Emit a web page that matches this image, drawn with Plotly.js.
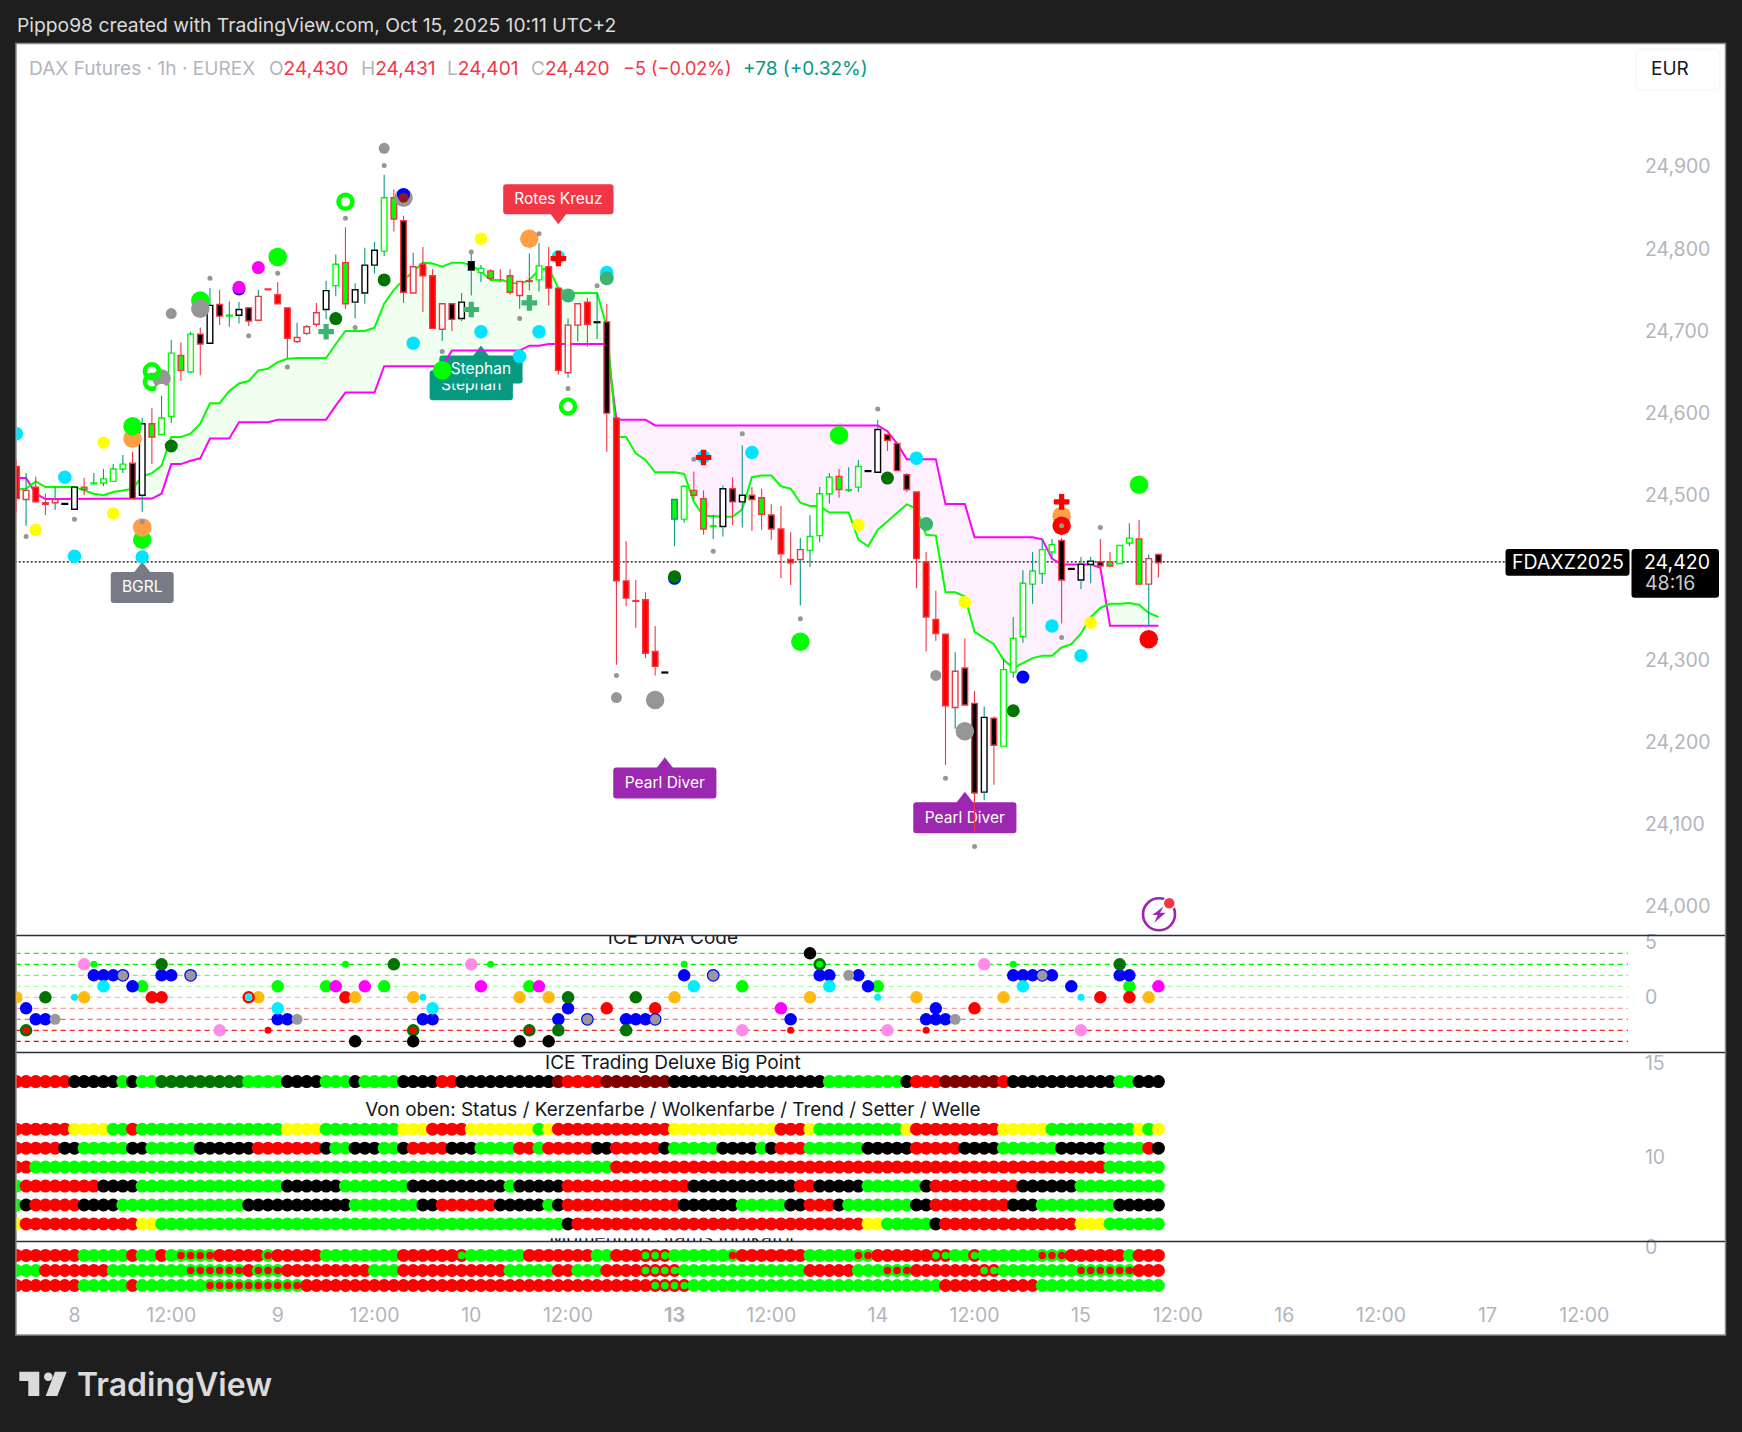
<!DOCTYPE html>
<html><head><meta charset="utf-8">
<script src="https://cdn.plot.ly/plotly-3.0.1.min.js"></script>
<style>html,body{margin:0;padding:0;background:#1e1e1e}#c{width:1742px;height:1432px}</style></head>
<body><div id="c"></div>
<script>
// ---------- candle data (prices) ----------
const bodyHigh=[24534,24505,24509,24490,24494,24489,24509,24509,24514,24519,
24531,24537,24538,24586,24586,24593,24672,24669,24695,24695,
24730,24731,24718,24725,24727,24741,24750,24743,24727,24691,
24704,24721,24748,24780,24782,24749,24779,24797,24861,24861,
24833,24777,24780,24766,24732,24732,24734,24783,24775,24772,
24761,24766,24759,24760,24778,24777,24751,24706,24732,24734,
24710,24710,24593,24395,24371,24372,24309,24284,24494,24510,
24505,24495,24462,24507,24507,24499,24499,24496,24475,24458,
24421,24433,24449,24501,24521,24522,24506,24534,24529,24579,
24573,24562,24524,24503,24418,24348,24330,24285,24289,24246,
24229,24228,24287,24325,24392,24407,24433,24439,24444,24410,
24415,24419,24418,24418,24438,24447,24446,24422,24427];
const bodyLow=[24495,24494,24491,24488,24490,24488,24482,24506,24513,24514,
24516,24531,24495,24499,24570,24573,24595,24651,24649,24683,
24684,24717,24717,24718,24711,24712,24749,24732,24690,24686,
24696,24707,24725,24754,24732,24734,24745,24779,24796,24835,
24746,24745,24766,24702,24701,24713,24714,24773,24770,24763,
24760,24746,24742,24759,24761,24751,24651,24648,24706,24707,
24709,24599,24395,24374,24370,24307,24291,24283,24470,24470,
24499,24458,24461,24461,24491,24491,24494,24476,24458,24428,
24417,24421,24432,24450,24501,24506,24505,24509,24528,24527,
24566,24529,24506,24422,24351,24331,24243,24241,24244,24137,
24138,24195,24194,24284,24327,24391,24404,24430,24396,24409,
24396,24415,24413,24413,24416,24441,24391,24391,24417];
const wickHigh=[24542,24526,24522,24501,24509,24489,24509,24520,24526,24531,
24537,24548,24552,24593,24605,24620,24688,24685,24698,24703,
24751,24749,24735,24734,24727,24749,24750,24758,24727,24709,
24706,24733,24760,24792,24825,24757,24800,24807,24889,24871,
24839,24794,24801,24774,24732,24732,24745,24795,24779,24774,
24774,24774,24759,24793,24806,24801,24751,24714,24732,24739,
24745,24732,24593,24443,24396,24381,24340,24284,24494,24511,
24528,24505,24475,24511,24521,24560,24509,24507,24488,24486,
24454,24447,24475,24509,24526,24531,24533,24542,24529,24591,
24573,24562,24526,24503,24430,24383,24330,24308,24325,24261,
24242,24230,24300,24351,24408,24430,24445,24446,24447,24410,
24424,24424,24446,24430,24438,24465,24469,24427,24428];
const wickLow=[24478,24462,24491,24475,24481,24488,24482,24499,24513,24510,
24516,24526,24495,24479,24537,24573,24587,24638,24648,24645,
24684,24706,24704,24708,24705,24712,24749,24732,24666,24684,
24694,24704,24713,24741,24726,24714,24732,24769,24790,24820,
24733,24745,24722,24702,24687,24699,24711,24742,24758,24761,
24758,24743,24726,24748,24747,24730,24646,24642,24686,24680,
24689,24552,24293,24364,24338,24301,24280,24283,24437,24466,
24494,24451,24446,24449,24463,24460,24456,24457,24445,24398,
24390,24365,24412,24442,24489,24496,24503,24503,24528,24527,
24553,24529,24503,24386,24309,24322,24171,24215,24244,24089,
24128,24147,24194,24277,24320,24367,24391,24422,24343,24409,
24385,24392,24412,24412,24416,24437,24391,24340,24399];
const bodyFillCodes='RWRRWKWGGW'+'WWKWGWWGWK'+'WKGWKWRRRW'+'WWWWGWWWWG'+'KWRRWKWKWG'+'GGWRWRRWWR'+'KKRRRRRKGW'+'GGGWKWKGKR'+'RWWWWGGWKW'+'KKKRRRRWKK'+'WKWWWWWWKK'+'WWKGWWGWK';
const bodyEdgeCodes='rrrrrkkrgg'+'ggrkrggrgr'+'krgkrrrrrr'+'rrkgrkkkgr'+'rrrrrrkkgr'+'grrrgrrrrr'+'krrrrrrktg'+'rrgkrkrrrr'+'rrgggrggkk'+'rrrrrrrrrr'+'krggggggrk'+'kkrrggrrr';
const wickCodes='rtrrtkkrtt'+'ttrtrttrtr'+'trttrtrrrt'+'trttrttttr'+'rtrrtrtttr'+'rrtttrrttr'+'trrrrrrktt'+'rrttrtrrrr'+'rttttrttkt'+'rrrrrrrtrr'+'trttttttrk'+'ttrrttrtr';
// ---------- band lines ----------
const greenLine=[24506,24507,24516,24509,24509,24509,24509,24505,24501,24499,
24503,24505,24507,24522,24526,24535,24570,24570,24574,24586,
24611,24611,24626,24635,24638,24651,24653,24661,24665,24666,
24666,24666,24666,24683,24699,24699,24699,24703,24732,24749,
24761,24771,24782,24781,24777,24782,24782,24779,24771,24761,
24761,24758,24756,24761,24773,24775,24751,24745,24745,24745,
24745,24704,24570,24570,24550,24542,24527,24527,24527,24525,
24491,24474,24474,24473,24473,24482,24521,24523,24523,24510,
24507,24490,24486,24486,24478,24478,24478,24445,24437,24457,
24467,24477,24488,24483,24451,24450,24381,24381,24376,24333,
24325,24318,24299,24289,24295,24301,24304,24304,24314,24318,
24331,24351,24362,24367,24367,24368,24366,24356,24351];
const magentaLine=[24520,24520,24501,24494.5,24494.5,24494.5,24494.5,24494.5,24494.5,24494.5,
24494.5,24494.5,24494.5,24494.5,24495,24501,24537,24537,24541,24544,
24568,24568,24568,24588,24588,24588,24588,24591,24591,24591,
24591,24591,24591,24608,24624,24624,24624,24624,24656,24656,
24656,24656,24656,24656,24656,24675,24675,24675,24675,24675,
24675,24675,24675,24681,24681,24683,24683,24683,24683,24683,
24683,24683,24591,24591,24591,24591,24584,24584,24584,24584,
24584,24584,24584,24584,24584,24584,24584,24584,24584,24584,
24584,24584,24584,24584,24584,24584,24584,24584,24584,24584,
24577,24562,24543,24543,24543,24543,24488.5,24488.5,24488.5,24448,
24448,24448,24448,24448,24448,24448,24445.5,24422,24415,24415,
24415,24415,24411,24340.5,24340.5,24340.5,24340.5,24340.5,24340.5];
const lastPriceLine=24418;
// ---------- main-pane markers: [bar, price] ----------
const cyanDots=[[0,24574],[5,24521],[6,24425],[13,24424],[41,24684],[48,24698],[52,24668],[54,24698],[56,24789],[61,24770],[71,24546],[76,24551],[93,24544],[107,24340],[110,24304]];
const yellowDots=[[2,24457],[9,24563],[10,24477],[48,24811],[87,24463],[98,24369],[111,24344]];
const orangeUnder=[[12,24568]];
const greenBig=[[12,24583],[13,24445],[19,24736],[27,24789],[44,24651],[81,24321],[85,24572],[116,24512]];
const orangeBig=[[13,24460],[53,24811],[108,24474]];
const ringLow=[[14,24637]];
const grayBig=[[15,24641],[19,24726],[40,24861],[66,24250],[98,24212]];
const whiteDots=[[15,24628]];
const grayMid=[[16,24720],[38,24921],[62,24253],[95,24280]];
const ringTop=[[14,24650],[34,24856],[57,24607]];
const blueDots=[[23,24750],[40,24865],[68,24398],[104,24278]];
const magentaDots=[[23,24752],[25,24776]];
const darkGreenDots=[[16,24559],[33,24714],[38,24761],[68,24400],[90,24520],[103,24237]];
const seaDots=[[57,24742],[61,24763],[94,24464]];
const seaCross=[[32,24698],[47,24725],[53,24733]];
const redBig=[[108,24462],[117,24324]];
const redCross=[[56,24787],[71,24545],[108,24491]];
const darkRedDots=[[40,24861]];
const grayTiny=[[1,24449],[6,24470],[13,24467],[20,24763],[24,24693],[27,24769],[28,24655],[34,24836],[35,24703],[38,24900],[44,24674],[47,24795],[52,24714],[54,24817],[57,24629],[60,24754],[62,24280],[70,24543],[72,24431],[75,24574],[81,24349],[89,24604],[96,24155],[99,24072],[108,24462],[108,24326],[112,24460]];
// ---------- callouts ----------
const calloutText=['Stephan','Rotes Kreuz','Stephan','BGRL','Pearl Diver','Pearl Diver'];
const calloutBar=[47,56,48,13,67,98];
const calloutPrice=[24633,24859,24652,24387,24149,24107];
const calloutTip=[null,24839,24671,24408,24170,24128];
const calloutWidth=[8.6,11.4,8.6,6.5,10.66,10.66];
const calloutHeight=[36.5,36.5,34,37.7,37.7,37.7];
const calloutColor=['#089981','#f23645','#089981','#787b86','#9c27b0','#9c27b0'];
// ---------- ICE DNA Code: [bar, level] ----------
const dnaGreen=[[13,1],[27,1],[32,1],[38,1],[53,1],[75,1],[89,1],[115,1]];
const dnaBlue=[[1,-1],[2,-2],[3,-2],[8,2],[9,2],[10,2],[12,1],[15,2],[16,2],[27,-2],[28,-2],[42,-2],[43,-2],[56,-2],[57,-1],[63,-2],[64,-2],[65,-2],[69,2],[80,-2],[83,2],[84,2],[87,2],[88,1],[94,-2],[95,-2],[96,-2],[95,-1],[103,2],[104,2],[105,2],[107,2],[109,1],[114,2],[115,2]];
const dnaRed=[[14,0],[15,0],[34,0],[61,-1],[66,-1],[99,-1],[112,0],[115,0]];
const dnaOrange=[[0,0],[7,0],[25,0],[35,0],[41,0],[52,0],[55,0],[68,0],[82,0],[93,0],[102,0],[117,0]];
const dnaCyan=[[9,1],[27,-1],[43,-1],[70,1],[84,1],[104,1]];
const dnaPink=[[7,3],[21,-3],[47,3],[75,-3],[90,-3],[100,3],[110,-3]];
const dnaMagenta=[[33,1],[36,1],[48,1],[54,1],[79,-1],[118,1]];
const dnaGray=[[4,-2],[29,-2],[86,2],[97,-2]];
const dnaGrayBlue=[[11,2],[18,2],[59,-2],[66,-2],[72,2],[106,2]];
const dnaDark=[[1,-3],[3,0],[15,3],[39,3],[41,-3],[53,-3],[57,0],[56,-3],[63,-3],[64,0],[83,3],[114,3]];
const dnaBlack=[[35,-4],[41,-4],[52,-4],[55,-4],[82,4]];
const dnaRing=[[24,0]];
const dnaSmallGreen=[[8,3],[34,3],[49,3],[69,3],[83,3],[103,3]];
const dnaSmallRed=[[1,-3],[26,-3],[41,-3],[53,-3],[80,-3],[94,-3]];
const dnaSmallCyan=[[6,0],[24,0],[42,0],[89,0],[110,0]];
const dnaLevels=[4,3,2,1,0,-1,-2,-3,-4];
const dnaLevelColors=['#00ff00','#00ee00','#66ff66','#aaffaa','#cccccc','#ff9999','#ff6666','#ff2222','#e00000'];
// ---------- status rows (letter + run length) ----------
const bigPointRuns='R6 K5 G1 K1 G2 D9 G4 K4 G3 K1 G4 K4 R2 K10 M1 R4 M7 K16 G8 K1 R3 M6 R1 K11 G2 K3';
const statusRuns='R6 Y4 G2 R1 G15 Y4 G8 Y3 R4 Y7 G1 Y1 R12 Y11 R3 Y1 G9 Y1 R9 Y5 G9 Y1 G1 Y1';
const candleRuns='R5 K2 G5 K2 G5 K6 R7 K1 G2 K3 G2 K1 R4 K3 G4 R2 G1 R5 K2 R5 K1 G5 K4 G1 K1 R3 G6 K5 R5 K4 G6 K5 G4 R1 K1';
const cloudRuns='R2 G60 R51 G6';
const trendRuns='G1 R8 K4 G15 K6 G7 K10 G1 K5 R13 K11 R2 K5 G6 K1 R9 K6 G9';
const setterRuns='G1 K1 R5 K4 G13 K11 G7 K2 R6 K5 G1 K1 R12 K6 G5 K2 R3 K1 G7 K2 R8 K3 G8 K5';
const welleRuns='Y1 R12 Y2 G42 K1 R30 Y2 G5 K1 R14 Y3 G6';
const moment1Runs='R7 G5 R1 G2 R1 G1 a4 R5 a1 R5 G8 R6 b1 G6 R7 G2 R3 b3 G6 a1 R7 G5 a2 R6 b2 G2 b1 G6 a3 R6 G1 R3';
const moment2Runs='G3 R7 G8 a6 R1 a3 R9 G3 R11 G5 R2 G3 R4 b4 G13 R5 G3 a3 R7 b2 G8 a6 R3';
const moment3Runs='R7 G5 R1 G7 a10 R36 b4 G26 R10 G13';
// ---------- axis labels ----------
const priceTicks=[24000,24100,24200,24300,24400,24500,24600,24700,24800,24900];
const timeTickBars=[6,16,27,37,47,57,68,78,89,99,110,120,131,141,152,162];
const timeTickText=['8','12:00','9','12:00','10','12:00','<b>13</b>','12:00','14','12:00','15','12:00','16','12:00','17','12:00'];

// ---------- helpers ----------
const W=1742,H=1432, STEP=9.678, ORIGIN=16.4;
const pxX=p=>p/W, pxY=p=>1-p/H;
const dom=(top,bot)=>[1-bot/H,1-top/H];
const barOf=p=>(p-ORIGIN)/STEP;
const bars=bodyHigh.map((_,i)=>i);
const FONT='Inter, "Noto Sans", sans-serif';
const fills={R:'#ff0000',W:'#ffffff',K:'#000000',G:'#00ff00'};
const edges={r:'#f23645',g:'#00ff00',k:'#000000',t:'#089981'};
const wickCols={r:'#f23645',t:'#089981',k:'#000000'};
const rowCols={R:'#ff0000',G:'#00ff00',K:'#000000',Y:'#ffff00',D:'#007300',M:'#800000',a:'#00ff00',b:'#ff0000'};
const expand=r=>r.split(' ').flatMap(t=>Array(+t.slice(1)).fill(t[0]));
const base={hoverinfo:'skip',showlegend:false};
function dots(arr,color,size,yaxis,extra={}){
  return Object.assign({},base,{type:'scatter',mode:'markers',x:arr.map(a=>a[0]),y:arr.map(a=>a[1]),yaxis,xaxis:'x',
    marker:Object.assign({color,size,line:{width:0}},extra)});
}
function ring(arr,color,size,width,yaxis){
  return dots(arr,color,size,yaxis,{symbol:'circle-open',line:{width,color}});
}
function textTrace(x,y,text,yaxis,color,size,pos){
  return Object.assign({},base,{type:'scatter',mode:'text',x:[x],y:[y],text:[text],yaxis,xaxis:'x',textposition:pos||'middle center',
    textfont:{family:FONT,size,color},cliponaxis:true});
}
function rowTraces(runs,level,yaxis,size){
  const codes=expand(runs);
  const out=[Object.assign({},base,{type:'scatter',mode:'markers',x:bars,y:codes.map(()=>level),yaxis,xaxis:'x',
    marker:{size,color:codes.map(c=>rowCols[c]),line:{width:0}}})];
  const inner=bars.filter(i=>codes[i]==='a'||codes[i]==='b');
  if(inner.length) out.push(Object.assign({},base,{type:'scatter',mode:'markers',x:inner,y:inner.map(()=>level),yaxis,xaxis:'x',
    marker:{size:7.5,color:inner.map(i=>codes[i]==='a'?'#ff0000':'#00ff00'),line:{width:0}}}));
  return out;
}
function bandFills(){
  const out=[];let xs=[],up=[],lo=[];
  const flush=s=>{ if(xs.length>1) out.push(Object.assign({},base,{type:'scatter',mode:'lines',yaxis:'y6',xaxis:'x',
      x:xs.concat(xs.slice().reverse()),y:up.concat(lo.slice().reverse()),fill:'toself',line:{width:0},
      fillcolor:s>=0?'rgba(0,255,0,0.06)':'rgba(255,0,255,0.06)'}));};
  let sign=Math.sign(greenLine[0]-magentaLine[0])||1;
  bars.forEach(i=>{
    const s=Math.sign(greenLine[i]-magentaLine[i])||sign;
    if(s!==sign){
      const d0=greenLine[i-1]-magentaLine[i-1],d1=greenLine[i]-magentaLine[i],t=d0/(d0-d1);
      const cx=i-1+t,cy=greenLine[i-1]+t*(greenLine[i]-greenLine[i-1]);
      xs.push(cx);up.push(cy);lo.push(cy);flush(sign);xs=[cx];up=[cy];lo=[cy];sign=s;
    }
    xs.push(i);up.push(greenLine[i]);lo.push(magentaLine[i]);
  });
  flush(sign);
  return out;
}
function rr(x0,y0,x1,y1,r){
  const X=pxX,Y=pxY;
  return `M${X(x0+r)},${Y(y0)} L${X(x1-r)},${Y(y0)} Q${X(x1)},${Y(y0)} ${X(x1)},${Y(y0+r)} L${X(x1)},${Y(y1-r)} Q${X(x1)},${Y(y1)} ${X(x1-r)},${Y(y1)} L${X(x0+r)},${Y(y1)} Q${X(x0)},${Y(y1)} ${X(x0)},${Y(y1-r)} L${X(x0)},${Y(y0+r)} Q${X(x0)},${Y(y0)} ${X(x0+r)},${Y(y0)} Z`;
}
const poly=pts=>'M'+pts.map(p=>`${pxX(p[0])},${pxY(p[1])}`).join(' L')+' Z';
const pathShape=(path,fill,line,layer)=>({type:'path',xref:'paper',yref:'paper',path,fillcolor:fill,line:line||{width:0},layer:layer||'above'});

// ---------- traces ----------
const traces=[];
function callout(i,yaxis){
  traces.push(Object.assign({},base,{type:'bar',x:[calloutBar[i]],y:[calloutHeight[i]],base:[calloutPrice[i]-calloutHeight[i]/2],width:[calloutWidth[i]],yaxis,xaxis:'x',
    marker:{color:calloutColor[i],line:{width:0},cornerradius:3}}));
  if(calloutTip[i]!==null) traces.push(dots([[calloutBar[i],calloutTip[i]]],calloutColor[i],17,yaxis,{symbol:i===1?'triangle-down':'triangle-up'}));
  traces.push(textTrace(calloutBar[i],calloutPrice[i]-1.2,calloutText[i],yaxis,'#ffffff',15.5));
}
callout(0,'y');
[1,2,3,4,5].forEach(i=>callout(i,'y5'));

bandFills().forEach(t=>traces.push(t));
traces.push(Object.assign({},base,{type:'scatter',mode:'lines',x:[-1,barOf(1505)],y:[lastPriceLine,lastPriceLine],yaxis:'y6',xaxis:'x',line:{color:'#000',width:1.4,dash:'2px,2px'}}));
traces.push(Object.assign({},base,{type:'scatter',mode:'lines',x:bars,y:magentaLine,yaxis:'y6',xaxis:'x',line:{color:'#ff00ff',width:2}}));
traces.push(Object.assign({},base,{type:'scatter',mode:'lines',x:bars,y:greenLine,yaxis:'y6',xaxis:'x',line:{color:'#00ff00',width:2}}));

traces.push(Object.assign({},base,{type:'bar',x:bars,y:bars.map(i=>bodyHigh[i]-bodyLow[i]),base:bodyLow,width:0.58,yaxis:'y7',xaxis:'x',
  marker:{color:[...bodyFillCodes].map(c=>fills[c]),line:{width:1.4,color:[...bodyEdgeCodes].map(c=>edges[c])}}}));
['r','t','k'].forEach(code=>{
  const xs=[],ys=[];
  bars.forEach(i=>{ if(wickCodes[i]!==code) return;
    if(wickHigh[i]>bodyHigh[i]){xs.push(i,i,null);ys.push(wickHigh[i],bodyHigh[i],null);}
    if(wickLow[i]<bodyLow[i]){xs.push(i,i,null);ys.push(bodyLow[i],wickLow[i],null);}
  });
  traces.push(Object.assign({},base,{type:'scatter',mode:'lines',x:xs,y:ys,yaxis:'y7',xaxis:'x',line:{color:wickCols[code],width:1.1}}));
});

const M='y8';
traces.push(dots(cyanDots,'#00e5ff',13.5,M));
traces.push(dots(yellowDots,'#ffff00',12.5,M));
traces.push(dots(orangeUnder,'#ff9f45',18.5,M));
traces.push(dots(greenBig,'#00ff00',18.5,M));
traces.push(dots(orangeBig,'#ff9f45',18.5,M));
traces.push(ring(ringLow,'#00ff00',14,4.5,M));
traces.push(dots(grayBig,'#969696',18.5,M));
traces.push(dots(whiteDots,'#ffffff',11,M));
traces.push(dots(grayMid,'#969696',11,M));
traces.push(ring(ringTop,'#00ff00',14,4.5,M));
traces.push(dots(blueDots,'#0000ff',13,M));
traces.push(dots(magentaDots,'#ff00ff',13,M));
traces.push(dots(darkGreenDots,'#007300',13,M));
traces.push(dots(seaDots,'#3cb371',14,M));
traces.push(dots(seaCross,'#3cb371',13,M,{symbol:'cross'}));
traces.push(dots(redBig,'#ff0000',18.5,M));
traces.push(dots(redCross,'#ff0000',13,M,{symbol:'cross'}));
traces.push(dots(darkRedDots,'#8b1a1a',10,M));
traces.push(dots(grayTiny,'#969696',5,M));

// DNA pane
dnaLevels.forEach((lv,i)=>traces.push(Object.assign({},base,{type:'scatter',mode:'lines',x:[-1,barOf(1628)],y:[lv,lv],yaxis:'y2',xaxis:'x',
  line:{color:dnaLevelColors[i],width:1.2,dash:'5px,4px'}})));
[[dnaGreen,'#00ff00',12.5],[dnaBlue,'#0000ff',12.5],[dnaRed,'#ff0000',12.5],[dnaOrange,'#ffb90f',12.5],[dnaCyan,'#00eeff',12.5],[dnaPink,'#ff8ce8',12.5],[dnaMagenta,'#ff00ff',12.5],[dnaGray,'#999999',11]]
 .forEach(d=>traces.push(dots(d[0],d[1],d[2],'y2')));
traces.push(dots(dnaGrayBlue,'#999999',11.5,'y2',{line:{width:1.2,color:'#0000ff'}}));
traces.push(dots(dnaDark,'#007300',12.5,'y2'));
traces.push(dots(dnaBlack,'#000000',12.5,'y2'));
traces.push(ring(dnaRing,'#ff0000',10,2.5,'y2'));
traces.push(dots(dnaSmallGreen,'#00ff00',7,'y2'));
traces.push(dots(dnaSmallRed,'#ff0000',7,'y2'));
traces.push(dots(dnaSmallCyan,'#00eeff',7,'y2'));
traces.push(textTrace(67.84,5.25,'ICE DNA Code','y2','#131722',19));

// Deluxe pane
[[bigPointRuns,13.96],[statusRuns,11.45],[candleRuns,10.45],[cloudRuns,9.45],[trendRuns,8.45],[setterRuns,7.45],[welleRuns,6.45]]
 .forEach(r=>rowTraces(r[0],r[1],'y3',13).forEach(t=>traces.push(t)));
traces.push(textTrace(67.84,14.88,'ICE Trading Deluxe Big Point','y3','#131722',19));
traces.push(textTrace(67.84,12.38,'Von oben: Status / Kerzenfarbe / Wolkenfarbe / Trend / Setter / Welle','y3','#131722',18.9));

// Momentum pane
[[moment1Runs,-0.5],[moment2Runs,-1.5],[moment3Runs,-2.5]]
 .forEach(r=>rowTraces(r[0],r[1],'y4',13).forEach(t=>traces.push(t)));
traces.push(textTrace(67.84,-2.6,'Momentum Status Indikator','y9','#131722',19,'top center'));

// ---------- layout ----------
const tickFont={family:FONT,size:19.5,color:'#b2b5be'};
const hiddenOver={overlaying:'y',visible:false,range:[23963.9,25047.9],anchor:'x',fixedrange:true};
const yTicks=(vals,range,domain,shift)=>({domain,range,anchor:'x',side:'right',showgrid:false,zeroline:false,showline:false,ticks:'outside',ticklen:10,tickcolor:'rgba(0,0,0,0)',tickmode:'array',tickvals:vals,ticktext:vals.map(v=>v.toLocaleString('en-US')),tickfont:tickFont,ticklabelshift:shift,fixedrange:true});
const ann=(x,y,text,size,color,anchor,weight)=>({xref:'paper',yref:'paper',x:pxX(x),y:pxY(y),text,showarrow:false,xanchor:anchor||'left',yanchor:'middle',font:{family:FONT,size,color,weight:weight||400},borderpad:0});
const gr=s=>`<span style="color:#b2b5be">${s}</span>`;
const LEG=19.1;
const layout={width:W,height:H,margin:{l:0,r:0,t:0,b:0,pad:0},autosize:false,paper_bgcolor:'#1e1e1e',plot_bgcolor:'rgba(0,0,0,0)',barmode:'overlay',showlegend:false,
 xaxis:{type:'linear',domain:[16.5/W,1630/W],range:[(16.5-ORIGIN)/STEP,(1630-ORIGIN)/STEP],anchor:'y4',showgrid:false,zeroline:false,showline:false,ticks:'outside',ticklen:2,tickcolor:'rgba(0,0,0,0)',tickmode:'array',tickvals:timeTickBars,ticktext:timeTickText,tickfont:tickFont,fixedrange:true},
 yaxis:yTicks(priceTicks,[23963.9,25047.9],dom(44,935.3),1),
 yaxis2:yTicks([5,0],[-5,5.62],dom(935.5,1052.3),0),
 yaxis3:yTicks([15,10],[5.55,15.48],dom(1052.8,1241),1),
 yaxis4:yTicks([0],[-3.2,0.43],dom(1241.5,1296),-1),
 yaxis5:hiddenOver,yaxis6:hiddenOver,yaxis7:hiddenOver,yaxis8:hiddenOver,
 yaxis9:{domain:dom(1238.3,1241.3),range:[0,1],anchor:'x',visible:false,fixedrange:true},
 shapes:[
  pathShape(`M${pxX(16)},${pxY(43.5)} L${pxX(1725.5)},${pxY(43.5)} L${pxX(1725.5)},${pxY(1335)} L${pxX(16)},${pxY(1335)} Z`,'#ffffff',{width:1.5,color:'#8a8a8a'},'below'),
  ...[935.5,1052.5,1241.5].map(y=>({type:'line',xref:'paper',yref:'paper',x0:pxX(16.5),x1:pxX(1725),y0:pxY(y),y1:pxY(y),line:{color:'#2a2e39',width:1.4},layer:'above'})),
  pathShape(rr(1636,49,1720,90,7),'#ffffff',{width:1,color:'#f0f3fa'}),
  pathShape(rr(1505.5,549,1629.5,575.7,3),'#000000'),
  pathShape(rr(1631.5,549,1719,597.7,3),'#000000'),
  {type:'circle',xref:'paper',yref:'paper',x0:pxX(1143),x1:pxX(1175),y0:pxY(930.3),y1:pxY(898.3),line:{color:'#9c27b0',width:2.6},fillcolor:'rgba(0,0,0,0)',layer:'above'},
  {type:'circle',xref:'paper',yref:'paper',x0:pxX(1163.3),x1:pxX(1175.3),y0:pxY(909.3),y1:pxY(897.3),line:{color:'#ffffff',width:1.5},fillcolor:'#f23645',layer:'above'},
  pathShape(poly([[1163.5,906.5],[1152.3,915],[1157.7,915],[1154.3,922.7],[1165.7,912.7],[1160,912.7]]),'#9c27b0'),
  pathShape(poly([[19.3,1371.7],[39.3,1371.7],[39.3,1396],[28.3,1396],[28.3,1381],[19.3,1381]]),'#dbdbdb'),
  {type:'circle',xref:'paper',yref:'paper',x0:pxX(44),x1:pxX(52.6),y0:pxY(1381),y1:pxY(1372.4),line:{width:0},fillcolor:'#dbdbdb',layer:'above'},
  pathShape(poly([[55,1371.7],[66.7,1371.7],[57.3,1396],[45.7,1396]]),'#dbdbdb')
 ],
 annotations:[
  ann(16,25,'Pippo98 created with TradingView.com, Oct 15, 2025 10:11 UTC+2',19.3,'#dbdbdb'),
  ann(28,68.5,'DAX Futures · 1h · EUREX',LEG,'#b2b5be'),
  ann(268,68.5,gr('O')+'24,430',LEG,'#f23645'),
  ann(359.5,68.5,gr('H')+'24,431',LEG,'#f23645'),
  ann(446,68.5,gr('L')+'24,401',LEG,'#f23645'),
  ann(529.5,68.5,gr('C')+'24,420',LEG,'#f23645'),
  ann(622,68.5,'−5 (−0.02%)',18,'#f23645'),
  ann(741.5,68.5,'+78 (+0.32%)',19,'#089981'),
  ann(1650,69,'EUR',19,'#131722'),
  ann(1567.5,562,'FDAXZ2025',19.5,'#ffffff','center'),
  ann(1711,562,'24,420',19.5,'#ffffff','right'),
  ann(1644,583.5,'48:16',19.5,'#c8c8c8'),
  ann(76,1384,'TradingView',32,'#dbdbdb','left',600)
 ]
};
Plotly.newPlot('c',traces,layout,{staticPlot:true,displayModeBar:false,responsive:false});
</script></body></html>
